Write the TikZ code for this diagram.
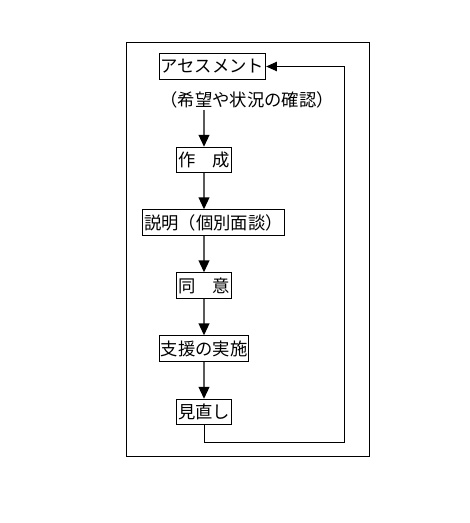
\documentclass[tikz,border=0pt]{standalone}
\usepackage{fontspec}
\setmainfont{Noto Sans CJK JP}
\usetikzlibrary{arrows.meta}
\begin{document}
\begin{tikzpicture}[x=0.75pt,y=-0.75pt,
  stepbox/.style={draw,line width=0.75pt,inner sep=1pt,minimum height=19pt,font=\fontsize{13pt}{15pt}\selectfont},
  flow/.style={draw=black!65,line width=1.5pt,-{Triangle[width=8pt,length=9pt,color=black]}},
  back/.style={draw,line width=0.75pt,-{Triangle[width=7pt,length=8pt]}}]
\useasboundingbox (0,0) rectangle (469,523);
\draw[line width=0.75pt] (126,43) rectangle (369,456);
\node[stepbox] (asm) at (212.5,66.5) {アセスメント};
\node[font=\fontsize{13pt}{15pt}\selectfont,inner sep=1pt] (lbl) at (247,100) {（希望や状況の確認）};
\node[stepbox] (sakusei) at (204,160) {作　成};
\node[stepbox] (setsumei) at (213.5,222.5) {説明（個別面談）};
\node[stepbox] (doui) at (204,285.5) {同　意};
\node[stepbox] (shien) at (204,348.5) {支援の実施};
\node[stepbox] (minaoshi) at (204,412) {見直し};
\coordinate (ret) at (344,442);
\draw[flow] (lbl.south -| sakusei) -- (sakusei);
\draw[flow] (sakusei) -- (sakusei |- setsumei.north);
\draw[flow] (setsumei.south -| doui) -- (doui);
\draw[flow] (doui) -- (shien);
\draw[flow] (shien) -- (minaoshi);
\draw[back] (minaoshi.south) |- (ret) |- (asm.east);
\end{tikzpicture}
\end{document}
